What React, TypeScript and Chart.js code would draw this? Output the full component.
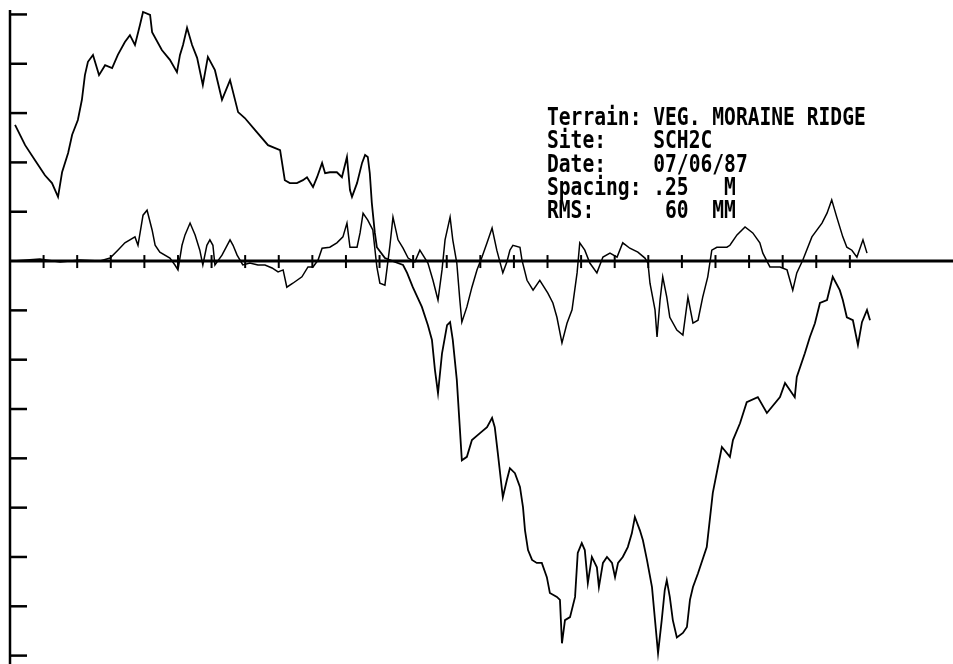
import React, { useEffect, useRef } from "react";
import { Chart, registerables } from "chart.js";

Chart.register(...registerables);

// Surface profile: distance along transect (m) and elevation (mm)
const profileDistance = [
  0.15, 0.45, 0.74, 1.04, 1.25, 1.43, 1.55, 1.73, 1.85, 2.02,
  2.14, 2.23, 2.32, 2.47, 2.65, 2.83, 3.04, 3.21, 3.42, 3.57,
  3.72, 3.87, 3.96, 4.17, 4.23, 4.52, 4.76, 4.97, 5.06, 5.15,
  5.27, 5.42, 5.57, 5.74, 5.89, 6.10, 6.31, 6.55, 6.79, 6.99,
  7.29, 7.68, 8.04, 8.18, 8.33, 8.54, 8.72, 8.84, 9.02, 9.14,
  9.29, 9.38, 9.52, 9.73, 9.88, 10.03, 10.12, 10.18, 10.33, 10.48,
  10.57, 10.65, 10.71, 10.77, 10.86, 10.92, 11.16, 11.46, 11.70, 11.82,
  11.99, 12.26, 12.44, 12.56, 12.65, 12.74, 12.86, 13.01, 13.10, 13.18,
  13.30, 13.45, 13.60, 13.75, 13.99, 14.20, 14.35, 14.43, 14.52, 14.67,
  14.79, 14.88, 15.03, 15.18, 15.27, 15.33, 15.42, 15.54, 15.68, 15.83,
  15.98, 16.07, 16.28, 16.37, 16.43, 16.52, 16.67, 16.82, 16.90, 17.02,
  17.11, 17.20, 17.32, 17.47, 17.53, 17.65, 17.77, 17.92, 18.01, 18.10,
  18.24, 18.39, 18.51, 18.60, 18.75, 18.84, 18.96, 19.11, 19.20, 19.29,
  19.40, 19.49, 19.55, 19.64, 19.73, 19.85, 20.03, 20.15, 20.24, 20.33,
  20.48, 20.74, 20.92, 21.07, 21.19, 21.43, 21.52, 21.73, 21.93, 22.26,
  22.53, 22.92, 23.07, 23.36, 23.42, 23.66, 23.81, 23.96, 24.11, 24.32,
  24.49, 24.70, 24.79, 24.91, 25.09, 25.24, 25.36, 25.51, 25.60,
];
const profileElevation = [
  276, 235, 205, 174, 158, 130, 180, 219, 256, 286,
  327, 377, 404, 418, 377, 397, 391, 418, 444, 458,
  438, 479, 505, 499, 464, 428, 408, 383, 418, 438,
  473, 438, 412, 357, 414, 387, 327, 367, 302, 290,
  266, 235, 225, 164, 158, 158, 164, 170, 150, 170,
  199, 178, 180, 180, 170, 211, 144, 130, 158, 199,
  215, 211, 178, 118, 57, 28, 6, -2, -8, -24,
  -53, -93, -130, -160, -221, -268, -187, -130, -124, -160,
  -241, -404, -397, -363, -349, -337, -318, -337, -389, -479,
  -444, -420, -430, -458, -499, -546, -586, -606, -612, -612,
  -641, -673, -681, -687, -775, -728, -722, -681, -592, -572,
  -586, -653, -600, -621, -661, -612, -600, -612, -641, -612,
  -600, -580, -552, -519, -546, -566, -606, -661, -728, -795,
  -728, -667, -647, -681, -728, -763, -754, -742, -687, -661,
  -633, -580, -470, -418, -377, -397, -363, -329, -286, -276,
  -308, -276, -247, -276, -235, -187, -154, -126, -85, -79,
  -32, -59, -79, -114, -120, -170, -124, -99, -120,
];

// Detrended (residual) roughness profile
const residualDistance = [
  0.09, 0.89, 1.49, 2.08, 2.68, 2.98, 3.21, 3.42, 3.72, 3.81,
  3.96, 4.08, 4.23, 4.32, 4.46, 4.76, 4.91, 5.00, 5.12, 5.21,
  5.36, 5.51, 5.65, 5.74, 5.86, 5.95, 6.04, 6.10, 6.31, 6.55,
  6.64, 6.76, 6.93, 7.14, 7.38, 7.59, 7.80, 7.98, 8.13, 8.24,
  8.42, 8.69, 8.87, 9.02, 9.17, 9.29, 9.52, 9.73, 9.91, 10.03,
  10.12, 10.33, 10.42, 10.51, 10.65, 10.80, 10.92, 11.01, 11.16, 11.31,
  11.40, 11.55, 11.70, 11.85, 12.05, 12.20, 12.44, 12.59, 12.74, 12.86,
  12.95, 13.10, 13.18, 13.30, 13.39, 13.45, 13.60, 13.75, 13.90, 14.05,
  14.20, 14.35, 14.49, 14.67, 14.79, 14.88, 14.97, 15.18, 15.24, 15.39,
  15.57, 15.77, 16.01, 16.16, 16.28, 16.43, 16.58, 16.73, 16.88, 16.96,
  17.11, 17.26, 17.47, 17.65, 17.86, 18.07, 18.24, 18.45, 18.69, 18.90,
  18.99, 19.05, 19.20, 19.26, 19.35, 19.43, 19.55, 19.64, 19.85, 20.03,
  20.18, 20.33, 20.48, 20.62, 20.77, 20.89, 21.04, 21.34, 21.43, 21.64,
  21.88, 22.11, 22.32, 22.41, 22.62, 22.92, 23.13, 23.30, 23.42, 23.60,
  23.87, 24.17, 24.32, 24.46, 24.61, 24.79, 24.91, 25.06, 25.21, 25.39,
  25.51,
];
const residualElevation = [
  0, 4, -2, 2, 0, 6, 22, 37, 49, 32,
  93, 103, 63, 32, 18, 6, -8, -18, 32, 53,
  77, 53, 22, -8, 32, 43, 32, -8, 12, 43,
  32, 12, -8, -4, -8, -8, -14, -22, -18, -53,
  -45, -32, -12, -12, 2, 26, 28, 37, 49, 77,
  28, 28, 57, 97, 83, 63, -12, -45, -49, 32,
  89, 43, 26, 6, -2, 22, -4, -39, -79, -18,
  43, 89, 43, -4, -79, -124, -93, -53, -18, 8,
  37, 67, 22, -24, -2, 22, 32, 28, 2, -39,
  -59, -39, -65, -85, -114, -166, -126, -99, -24, 37,
  22, -4, -24, 8, 16, 8, 37, 26, 18, 6,
  -4, -45, -99, -154, -79, -32, -73, -114, -140, -150,
  -73, -126, -120, -73, -32, 22, 28, 28, 32, 53,
  69, 57, 37, 16, -12, -12, -18, -59, -24, 2,
  49, 77, 97, 124, 89, 49, 28, 22, 8, 43,
  16,
];

const yTickValues = [500, 400, 300, 200, 100, -100, -200, -300, -400, -500, -600, -700, -800];
const xTickValues = [1, 2, 3, 4, 5, 6, 7, 8, 9, 10, 11, 12, 13, 14, 15, 16, 17, 18, 19, 20, 21, 22, 23, 24, 25];

const infoLines = [
  "Terrain: VEG. MORAINE RIDGE",
  "Site:    SCH2C",
  "Date:    07/06/87",
  "Spacing: .25   M",
  "RMS:      60  MM",
];

const oldPlotPlugin = {
  id: "oldPlot",
  beforeDatasetsDraw(chart: any) {
    const { ctx, scales, chartArea } = chart;
    const xs = scales.x;
    const ys = scales.y;
    const x0 = xs.getPixelForValue(0);
    const y0 = ys.getPixelForValue(0);
    ctx.save();
    ctx.strokeStyle = "#000";
    ctx.lineCap = "butt";
    // vertical axis
    ctx.lineWidth = 2.5;
    ctx.beginPath();
    ctx.moveTo(x0, chartArea.top);
    ctx.lineTo(x0, chartArea.bottom);
    ctx.stroke();
    // horizontal zero axis
    ctx.lineWidth = 3;
    ctx.beginPath();
    ctx.moveTo(x0, y0);
    ctx.lineTo(chart.width, y0);
    ctx.stroke();
    // y ticks
    ctx.lineWidth = 2.5;
    for (const v of yTickValues) {
      const py = ys.getPixelForValue(v);
      ctx.beginPath();
      ctx.moveTo(x0, py);
      ctx.lineTo(x0 + 17, py);
      ctx.stroke();
    }
    // x ticks
    ctx.lineWidth = 2;
    for (const m of xTickValues) {
      const px = xs.getPixelForValue(m);
      ctx.beginPath();
      ctx.moveTo(px, y0 - 6);
      ctx.lineTo(px, y0 + 7);
      ctx.stroke();
    }
    ctx.restore();
  },
  afterDraw(chart: any) {
    const { ctx } = chart;
    const baselines = [125, 148, 172, 195, 218];
    ctx.save();
    ctx.fillStyle = "#000";
    ctx.font = 'bold 24px "DejaVu Sans Mono"';
    ctx.textBaseline = "alphabetic";
    ctx.textAlign = "left";
    infoLines.forEach((line, i) => {
      ctx.save();
      ctx.translate(547, baselines[i]);
      ctx.scale(0.817, 1);
      ctx.fillText(line, 0, 0);
      ctx.restore();
    });
    ctx.restore();
  },
};

export default function App() {
  const canvasRef = useRef<HTMLCanvasElement | null>(null);

  useEffect(() => {
    if (!canvasRef.current) return;
    const chart = new Chart(canvasRef.current, {
      type: "line",
      data: {
        datasets: [
          {
            label: "Profile",
            data: profileDistance.map((d, i) => ({ x: d, y: profileElevation[i] })),
            borderColor: "#000",
            borderWidth: 1.8,
            pointRadius: 0,
            fill: false,
            tension: 0,
          },
          {
            label: "Detrended",
            data: residualDistance.map((d, i) => ({ x: d, y: residualElevation[i] })),
            borderColor: "#000",
            borderWidth: 1.5,
            pointRadius: 0,
            fill: false,
            tension: 0,
          },
        ],
      },
      options: {
        responsive: false,
        maintainAspectRatio: false,
        animation: false,
        devicePixelRatio: 1,
        layout: { padding: { left: 10, top: 10, right: 0, bottom: 0 } },
        scales: {
          x: { type: "linear", display: false, min: 0, max: 28.07 },
          y: { type: "linear", display: false, min: -817, max: 509 },
        },
        plugins: {
          legend: { display: false },
          tooltip: { enabled: false },
        },
      },
      plugins: [oldPlotPlugin],
    });
    return () => chart.destroy();
  }, []);

  return (
    <canvas
      ref={canvasRef}
      width={953}
      height={664}
      style={{ position: "fixed", left: 0, top: 0, width: 953, height: 664, background: "#fff" }}
    />
  );
}
